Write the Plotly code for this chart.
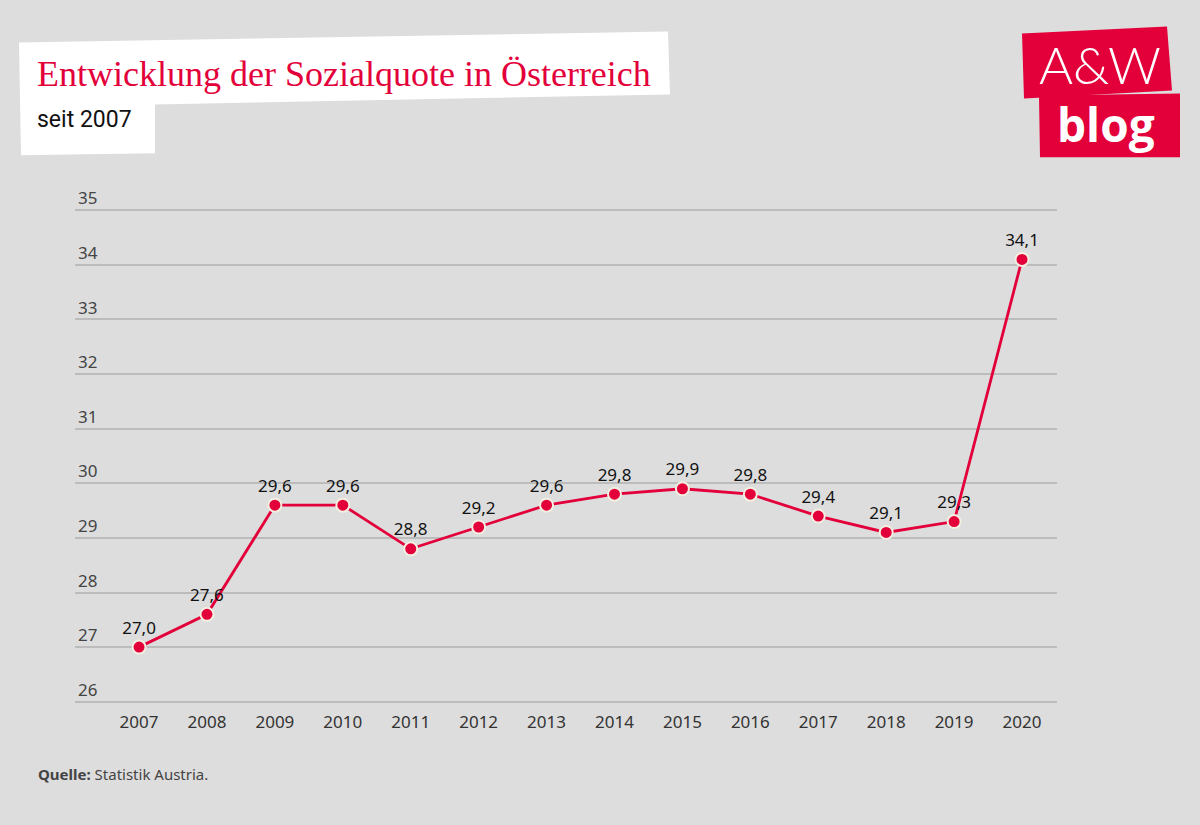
import plotly.graph_objects as go

# ---- data ----
years = [2007, 2008, 2009, 2010, 2011, 2012, 2013, 2014, 2015, 2016, 2017, 2018, 2019, 2020]
sozialquote = [27.0, 27.6, 29.6, 29.6, 28.8, 29.2, 29.6, 29.8, 29.9, 29.8, 29.4, 29.1, 29.3, 34.1]
y_ticks = [26, 27, 28, 29, 30, 31, 32, 33, 34, 35]
title_text = "Entwicklung der Sozialquote in Österreich"
subtitle_text = "seit 2007"
source_text = "<b>Quelle:</b> Statistik Austria."

RED = "#e3003a"
BG = "#dddddd"

W, H = 1200, 825
# pixel positions of value 26 / 35 gridlines and plot horizontal extent
G26, G35 = 702, 210
UNIT = (G26 - G35) / 9.0
Y_LO, Y_HI = 25.94, 35.06
L, R = 75, 1057
T = G35 - (Y_HI - 35) * UNIT
B = G26 + (26 - Y_LO) * UNIT


def px(x):
    return (x - L) / (R - L)


def py(y):
    return (B - y) / (B - T)


def path(points):
    return "M " + " L ".join(f"{px(x):.5f},{py(y):.5f}" for x, y in points) + " Z"


labels = [f"{v:.1f}".replace(".", ",") for v in sozialquote]

fig = go.Figure()
fig.add_trace(go.Scatter(
    x=years, y=sozialquote, mode="lines+markers+text",
    line=dict(color=RED, width=2.8),
    marker=dict(size=13, color=RED, line=dict(color="#f3efe0", width=2)),
    text=labels, textposition="top center",
    textfont=dict(family="Noto Sans", size=17, color="#111111"),
    cliponaxis=False, hoverinfo="skip",
))

shapes = [
    # title box
    dict(type="path", xref="paper", yref="paper", layer="below",
         path=path([(19, 42), (668, 31), (670, 94), (155, 104), (155, 153), (21, 155)]),
         fillcolor="white", line=dict(width=0)),
    # logo boxes
    dict(type="path", xref="paper", yref="paper", layer="below",
         path=path([(1022, 33), (1167, 26), (1172, 90), (1024, 98)]),
         fillcolor=RED, line=dict(width=0)),
    dict(type="path", xref="paper", yref="paper", layer="below",
         path=path([(1039, 95), (1180, 93), (1180, 157), (1040, 157)]),
         fillcolor=RED, line=dict(width=0)),
]

annotations = [
    dict(text=title_text, x=px(35), y=py(74), xref="paper", yref="paper",
         xanchor="left", yanchor="middle", showarrow=False,
         font=dict(family="Liberation Serif", size=36, color=RED)),
    dict(text=subtitle_text, x=px(35), y=py(119), xref="paper", yref="paper",
         xanchor="left", yanchor="middle", showarrow=False,
         font=dict(family="Roboto", size=23, color="#111111")),
    dict(text="A&amp;W", x=px(1100), y=py(64), xref="paper", yref="paper",
         xanchor="center", yanchor="middle", showarrow=False,
         font=dict(family="Lato", size=52, color="white", weight=300)),
    dict(text="<b>blog</b>", x=px(1106), y=py(124), xref="paper", yref="paper",
         xanchor="center", yanchor="middle", showarrow=False,
         font=dict(family="Open Sans", size=46, color="white")),
    dict(text=source_text, x=px(36), y=py(774), xref="paper", yref="paper",
         xanchor="left", yanchor="middle", showarrow=False,
         font=dict(family="Noto Sans", size=15, color="#444444")),
]

fig.update_layout(
    width=W, height=H,
    margin=dict(l=L, r=W - R, t=T, b=H - B, pad=0),
    paper_bgcolor=BG, plot_bgcolor=BG,
    showlegend=False,
    separators=",.",
    shapes=shapes, annotations=annotations,
    xaxis=dict(
        range=[2006.057, 2020.515], tickvals=years, ticktext=[str(y) for y in years],
        showgrid=False, zeroline=False, showline=False, ticks="",
        tickfont=dict(family="Noto Sans", size=17, color="#333333"),
        ticklabelstandoff=5, fixedrange=True,
    ),
    yaxis=dict(
        range=[Y_LO, Y_HI], tickvals=y_ticks, ticktext=[str(v) for v in y_ticks],
        showgrid=True, gridcolor="#bcbcbc", gridwidth=1.5,
        zeroline=False, showline=False, ticks="",
        ticklabelposition="inside top", ticklabeloverflow="allow",
        tickfont=dict(family="Noto Sans", size=17, color="#444444"),
        fixedrange=True,
    ),
)

fig.write_html("out.html", config={"displayModeBar": False},
               post_script="document.body.style.margin='0';")
